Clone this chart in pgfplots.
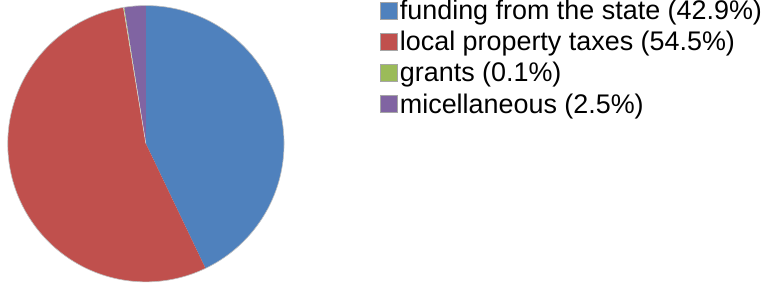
\documentclass[border=0pt]{standalone}
\usepackage{pgfplots}
\pgfplotsset{compat=1.18}
\usepackage{fontspec}
\setmainfont{Liberation Sans}
\definecolor{cblue}{HTML}{4F81BD}
\definecolor{cred}{HTML}{C0504D}
\definecolor{cgreen}{HTML}{9BBB59}
\definecolor{cpurple}{HTML}{8064A2}
\begin{document}
\begin{tikzpicture}
\begin{axis}[
  x=1pt, y=1pt,
  xmin=0, xmax=764, ymin=0, ymax=282,
  scale only axis,
  hide axis,
  clip=false,
  legend cell align=left,
  legend image code/.code={\draw[#1,draw=gray!70,line width=0.6pt] (0pt,-8.5pt) rectangle (17pt,8.5pt);},
  legend style={draw=none, fill=none, at={(axis cs:377,280)}, anchor=north west,
    inner sep=0pt, outer sep=0pt, row sep=10pt,
    font=\fontsize{26.5}{31}\selectfont,
    nodes={inner xsep=2pt, inner ysep=0pt}},
]
% slices: values in percent, drawn clockwise from 12 o'clock
\fill[cblue]   (axis cs:146.5,138.5) -- ++(90:136) arc[start angle=90, end angle={90-42.9*3.6}, radius=136] -- cycle;
\fill[cred]    (axis cs:146.5,138.5) -- ++({90-42.9*3.6}:136) arc[start angle={90-42.9*3.6}, end angle={90-(42.9+54.5)*3.6}, radius=136] -- cycle;
\fill[cgreen]  (axis cs:146.5,138.5) -- ++({90-(42.9+54.5)*3.6}:136) arc[start angle={90-(42.9+54.5)*3.6}, end angle={90-(42.9+54.5+0.1)*3.6}, radius=136] -- cycle;
\fill[cpurple] (axis cs:146.5,138.5) -- ++({90-(42.9+54.5+0.1)*3.6}:136) arc[start angle={90-(42.9+54.5+0.1)*3.6}, end angle={90-(42.9+54.5+0.1+2.5)*3.6}, radius=136] -- cycle;
\draw[white!85!black, line width=0.5pt] (axis cs:146.5,138.5) -- ++({90-(42.9+54.5)*3.6}:136);
\draw[gray!50, line width=0.6pt] (axis cs:146.5,138.5) circle[radius=136];
\addlegendimage{fill=cblue}
\addlegendentry{funding from the state (42.9\%)}
\addlegendimage{fill=cred}
\addlegendentry{local property taxes (54.5\%)}
\addlegendimage{fill=cgreen}
\addlegendentry{grants (0.1\%)}
\addlegendimage{fill=cpurple}
\addlegendentry{micellaneous (2.5\%)}
\end{axis}
\end{tikzpicture}
\end{document}
